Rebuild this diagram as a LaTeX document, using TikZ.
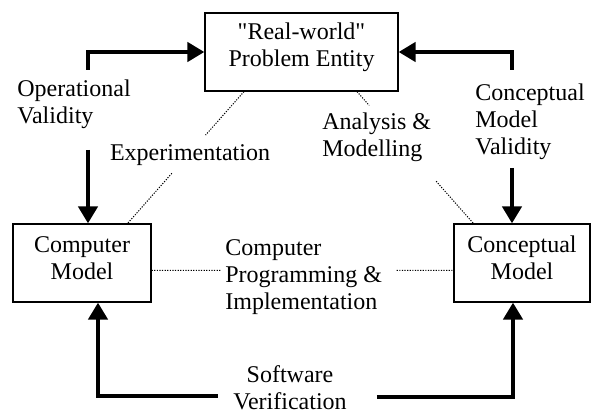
\documentclass[tikz,border=0pt]{standalone}
\usepackage{fontspec}
\setmainfont{Liberation Serif}
\usetikzlibrary{arrows.meta,calc}

% extra depth under the last line of a box, lifts its text a little
\newcommand\lowstrut[1]{\rule[-#1]{0pt}{#1}}

\tikzset{
  txt/.style={font=\fontsize{12}{13.5}\selectfont, inner sep=0pt},
  box/.style={txt, draw, line width=0.6pt, align=center},
  flow/.style={line width=2.3pt, miter limit=4, -{Triangle[length=8.5pt,width=9.5pt]}},
  link/.style={line width=0.5pt, dash pattern=on 0.6pt off 0.7pt}
}

\begin{document}
\begin{tikzpicture}[x=0.5pt, y=-0.5pt]
        \useasboundingbox (0,0) rectangle (591,412);

        % Boxes
        \node[box, minimum width=96.5pt, minimum height=39pt] (real) at (301.5,52) {\textquotedbl Real-world\textquotedbl\\Problem Entity\lowstrut{7.5pt}};
        \node[box, minimum width=69pt, minimum height=39pt] (comp) at (82,263) {Computer\\Model\lowstrut{5pt}};
        \node[box, minimum width=68pt, minimum height=39pt] (conc) at (522,263) {Conceptual\\Model\lowstrut{5pt}};

        % Labels
        \node[txt, align=left, anchor=west] (opval) at (17,104) {Operational\\Validity};
        \node[txt] (expt) at (190,155) {Experimentation};
        \node[txt, align=left, anchor=west] (anl) at (322,137) {Analysis \&\\Modelling};
        \node[txt, align=left, anchor=west] (cmval) at (475,122) {Conceptual\\Model\\Validity};
        \node[txt, align=left, anchor=west] (prog) at (225,277) {Computer\\Programming \&\\Implementation};
        \node[txt, align=center] (verif) at (290,388) {Software\\Verification};

        % Loose ends of the thick arrows
        \coordinate (opval-up) at (88,70);
        \coordinate (opval-dn) at (88,150);
        \coordinate (cmval-up) at (512,70);
        \coordinate (cmval-dn) at (512,168);
        \coordinate (verif-l) at (218,396);
        \coordinate (verif-r) at (377,397);

        % Validation / verification arrows
        \draw[flow] (opval-up) |- (real.west);
        \draw[flow] (opval-dn) -- (opval-dn |- comp.north);
        \draw[flow] (cmval-up) |- (real.east);
        \draw[flow] (cmval-dn) -- (cmval-dn |- conc.north);
        \draw[flow] (verif-l) -| ([xshift=8pt]comp.south);
        \draw[flow] (verif-r) -| ([xshift=-4.5pt]conc.south);

        % Dotted process lines, broken round their labels
        \coordinate (e1) at ([xshift=-28.75pt]real.south);
        \coordinate (e2) at ([xshift=-12pt]comp.north east);
        \draw[link] (e1) -- ($(e1)!0.33!(e2)$);
        \draw[link] ($(e1)!0.62!(e2)$) -- (e2);

        \coordinate (a1) at ([xshift=27.75pt]real.south);
        \coordinate (a2) at ([xshift=10pt]conc.north west);
        \draw[link] (a1) -- ($(a1)!0.105!(a2)$);
        \draw[link] ($(a1)!0.68!(a2)$) -- (a2);

        \coordinate (p1) at ([yshift=-3.75pt]comp.east);
        \coordinate (p2) at ([yshift=-3.75pt]conc.west);
        \draw[link] (p1) -- ($(p1)!0.228!(p2)$);
        \draw[link] ($(p1)!0.812!(p2)$) -- (p2);

\end{tikzpicture}
\end{document}
